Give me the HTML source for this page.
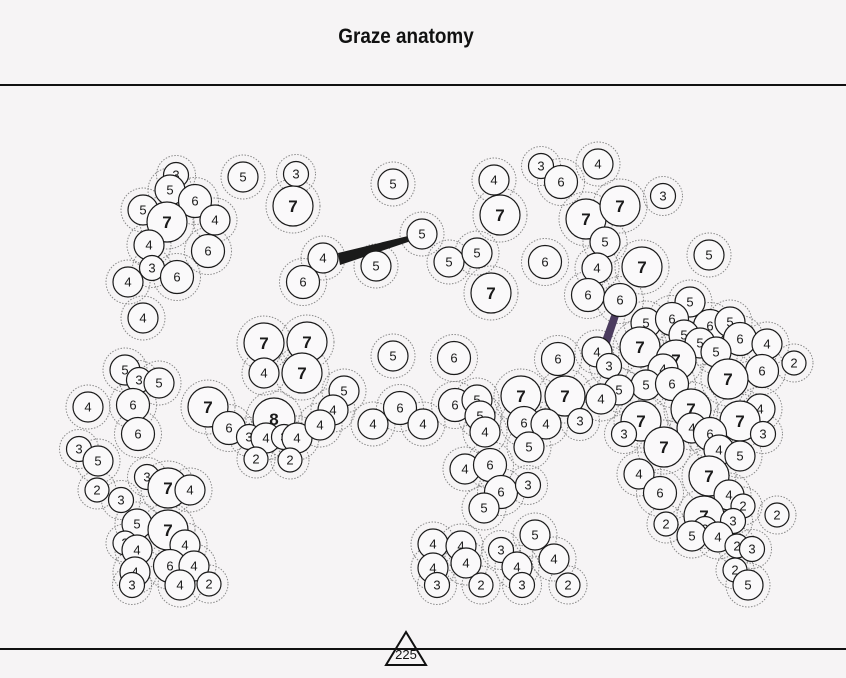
<!DOCTYPE html>
<html><head><meta charset="utf-8"><style>
html,body{margin:0;padding:0;background:#f6f4f5;}
svg{display:block;font-family:"Liberation Sans",sans-serif;}
</style></head><body>
<svg id="chart" width="846" height="678" viewBox="0 0 846 678">
<rect width="846" height="678" fill="#f6f4f5"/>
<text x="406" y="43" text-anchor="middle" font-family="Liberation Sans Narrow, Liberation Sans, sans-serif" font-weight="bold" font-size="21" fill="#111" transform="translate(406 0) scale(0.9 1) translate(-406 0)">Graze anatomy</text>
<line x1="0" y1="85" x2="846" y2="85" stroke="#111" stroke-width="2"/>
<g id="halos"></g>
<g id="links">
<polygon points="338,253 340,265 411,241 408,236" fill="#1a1a1a"/>
<polygon points="612,313 619,316 609,346 601,343" fill="#4b3b5e"/>
</g>
<g id="nodes"></g>
<line x1="0" y1="649" x2="846" y2="649" stroke="#111" stroke-width="2"/>
<polygon points="406,632 386,665 426,665" fill="none" stroke="#111" stroke-width="2"/>
<text x="406" y="659" text-anchor="middle" font-size="13" fill="#111">225</text>
</svg>
<script>
const nodeX=[176,170,195,143,167,215,149,208,152,177,128,143,243,296,293,393,323,303,376,422,449,477,494,500,491,545,541,561,598,586,620,663,605,597,642,709,588,620,
690,646,672,710,730,684,700,740,716,767,794,640,597,676,663,609,762,728,646,672,619,601,691,760,740,641,692,710,624,763,664,719,740,709,639,660,729,743,777,704,733,666,705,692,718,737,752,735,748,
264,307,264,302,393,454,558,344,333,208,229,274,249,266,284,297,320,256,290,373,400,423,455,477,480,485,521,565,524,546,580,529,465,490,501,528,484,535,
125,139,159,88,133,138,79,98,97,121,147,168,190,137,168,125,137,185,135,170,194,132,180,209,
433,461,433,466,437,481,501,517,522,554,568];
const nodeY=[175,190,201,210,222,220,245,251,268,277,282,318,177,174,206,184,258,282,266,234,262,253,180,215,293,262,166,182,164,219,206,196,242,268,267,255,295,300,
302,323,319,326,322,335,343,339,352,344,363,347,352,360,369,366,371,379,385,384,390,399,409,409,421,421,428,434,434,434,447,450,456,476,474,493,495,506,515,516,521,524,529,536,537,546,549,570,585,
343,342,373,373,356,358,359,391,410,407,428,419,437,438,437,438,425,459,460,424,408,424,405,400,416,432,396,396,423,424,421,447,469,465,492,485,508,535,
370,380,383,407,405,434,449,461,490,500,477,488,490,524,530,543,550,545,572,566,566,585,585,584,
544,546,568,563,585,585,550,567,585,559,585];
const nodeValues=[3,5,6,5,7,4,4,6,3,6,4,4,5,3,7,5,4,6,5,5,5,5,4,7,7,6,3,6,4,7,7,3,5,4,7,5,6,6,
5,5,6,6,5,5,5,6,5,4,2,7,4,7,4,3,6,7,5,6,5,4,7,4,7,7,4,6,3,3,7,4,5,7,4,6,4,2,2,7,3,2,3,5,4,2,3,2,5,
7,7,4,7,5,6,6,5,4,7,6,8,3,4,3,4,4,2,2,4,6,4,6,5,5,4,7,7,6,4,3,5,4,6,6,3,5,5,
5,3,5,4,6,6,3,5,2,3,3,7,4,5,7,2,4,4,4,6,4,3,4,2,
4,4,4,4,3,2,3,4,3,4,2];
const radiusFor={2:12,3:12.5,4:15,5:15,6:16.5,7:20,8:21};
const NS='http://www.w3.org/2000/svg';
const halos=document.getElementById('halos'),nodes=document.getElementById('nodes');
nodeValues.forEach((v,i)=>{
  const r=radiusFor[v]||15;
  const h=document.createElementNS(NS,'circle');
  h.setAttribute('cx',nodeX[i]);h.setAttribute('cy',nodeY[i]);h.setAttribute('r',r+7);
  h.setAttribute('fill','none');h.setAttribute('stroke','#8a8a8a');h.setAttribute('stroke-width','1');h.setAttribute('stroke-dasharray','1.5 1.5');
  
  
  halos.appendChild(h);
});
nodeValues.forEach((v,i)=>{
  const r=radiusFor[v]||15;
  const g=document.createElementNS(NS,'g');
  
  
  const c=document.createElementNS(NS,'circle');
  c.setAttribute('cx',nodeX[i]);c.setAttribute('cy',nodeY[i]);c.setAttribute('r',r);
  c.setAttribute('fill','#faf9fa');c.setAttribute('stroke','#1a1a1a');c.setAttribute('stroke-width','1.2');
  
  
  const t=document.createElementNS(NS,'text');
  t.setAttribute('x',nodeX[i]);t.setAttribute('y',nodeY[i]+(v>=7?6:4.5));
  t.setAttribute('text-anchor','middle');t.setAttribute('font-size',v>=7?17:13);
  if(v>=7)t.setAttribute('font-weight','bold');
  t.setAttribute('fill','#1a1a1a');
  t.textContent=v;
  
  
  g.appendChild(c);g.appendChild(t);nodes.appendChild(g);
});
</script>
</body></html>
